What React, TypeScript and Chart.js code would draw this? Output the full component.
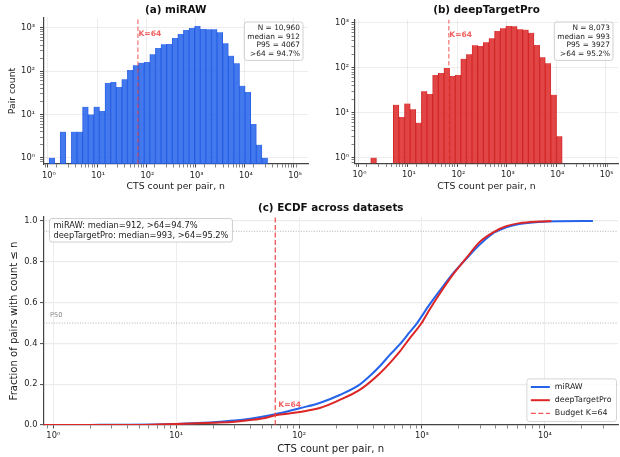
import React, { useEffect, useRef } from 'react';
import { Chart, registerables } from 'chart.js';

Chart.register(...registerables);

const FONT = "'DejaVu Sans', 'Liberation Sans', sans-serif";
Chart.defaults.font.family = FONT;

// ---------- data ----------
// shared log-spaced histogram bin edges (CTS count per pair)
const BIN_EDGES = [1, 1.3, 1.689, 2.195, 2.853, 3.709, 4.819, 6.263, 8.139, 10.58, 13.75, 17.87, 23.23, 30.19, 39.23, 50.98, 66.26, 86.12, 111.9, 145.5, 189.1, 245.7, 319.4, 415.0, 539.4, 701.0, 911.1, 1184, 1539, 2000, 2599, 3378, 4390, 5705, 7415, 9641, 12530, 16280, 21170, 27500];

const MIRAW_COUNTS = [1, 0, 4, 0, 4, 4, 15, 10, 15, 12, 53, 56, 43, 65, 106, 137, 156, 162, 246, 340, 419, 425, 581, 719, 889, 989, 1100, 938, 930, 922, 787, 439, 227, 151, 46, 33, 6, 2, 1];
const DTP_COUNTS = [0, 0, 1, 0, 0, 0, 15, 8, 16, 12, 6, 30, 26, 69, 76, 98, 65, 69, 158, 200, 315, 303, 370, 452, 650, 750, 840, 835, 715, 700, 595, 320, 170, 125, 25, 3, 0, 0, 0];

const MIRAW_N = '10,960';
const MIRAW_MEDIAN = 912;
const MIRAW_P95 = 4067;
const MIRAW_ABOVE_K = '94.7%';
const DTP_N = '8,073';
const DTP_MEDIAN = 993;
const DTP_P95 = 3927;
const DTP_ABOVE_K = '95.2%';
const BUDGET_K = 64;

// ECDF curves
const MIRAW_ECDF_N = [0.5, 1, 2, 4, 7, 10, 15, 20, 30, 40, 54, 64, 80, 101, 147, 214, 311, 376, 453, 549, 659, 794, 912, 1150, 1380, 1770, 2290, 2950, 3780, 4067, 4850, 6200, 9060, 13000, 24600];
const MIRAW_ECDF_F = [0, 0.0001, 0.0005, 0.0012, 0.003, 0.0055, 0.01, 0.014, 0.022, 0.031, 0.044, 0.053, 0.066, 0.082, 0.108, 0.147, 0.198, 0.24, 0.288, 0.345, 0.395, 0.455, 0.5, 0.59, 0.655, 0.74, 0.815, 0.885, 0.94, 0.95, 0.97, 0.986, 0.996, 0.999, 1.0];
const DTP_ECDF_N = [0.5, 2, 5, 7, 10, 15, 20, 30, 40, 54, 64, 80, 101, 147, 214, 311, 453, 549, 659, 794, 993, 1150, 1380, 1770, 2290, 2950, 3927, 4850, 6200, 9060, 11300];
const DTP_ECDF_F = [0, 0.0001, 0.0002, 0.002, 0.0045, 0.008, 0.011, 0.016, 0.024, 0.036, 0.048, 0.055, 0.064, 0.083, 0.123, 0.172, 0.253, 0.305, 0.36, 0.425, 0.5, 0.565, 0.64, 0.735, 0.818, 0.898, 0.95, 0.975, 0.99, 0.998, 1.0];

const ECDF_Y_TICKS = [0, 0.2, 0.4, 0.6, 0.8, 1.0];
const REF_LEVELS = [0.95, 0.5];

// ---------- styles ----------
const BLUE = '#2563eb';
const RED = '#dc2626';
const MIRAW_FILL = 'rgba(37,99,235,0.86)';
const MIRAW_EDGE = 'rgba(30,80,215,0.9)';
const DTP_FILL = 'rgba(220,38,38,0.86)';
const DTP_EDGE = 'rgba(190,30,30,0.9)';
const K_HIST = 'rgba(239,68,68,0.7)';
const K_LABEL = 'rgba(239,68,68,0.85)';
const K_ECDF = 'rgba(239,68,68,0.9)';

const SUP: Record<string, string> = { '-': '⁻', '0': '⁰', '1': '¹', '2': '²', '3': '³', '4': '⁴', '5': '⁵', '6': '⁶', '7': '⁷', '8': '⁸', '9': '⁹' };

function isPow10(v: number) {
  const e = Math.log10(v);
  return Math.abs(e - Math.round(e)) < 1e-6;
}
function pow10Label(v: number) {
  if (!isPow10(v)) return '';
  const r = Math.round(Math.log10(v));
  return '10' + String(r).split('').map((c) => SUP[c]).join('');
}
function logTicks(min: number, max: number) {
  const out: any[] = [];
  for (let e = -2; e <= 6; e++) {
    for (let m = 1; m <= 9; m++) {
      const v = m * Math.pow(10, e);
      if (v >= min && v <= max) out.push({ value: v, major: m === 1 });
    }
  }
  return out;
}

function logAxis(o: any) {
  return {
    type: 'logarithmic',
    min: o.min,
    max: o.max,
    bounds: 'data',
    z: o.z || 0,
    afterBuildTicks: (s: any) => {
      s.ticks = logTicks(o.min, o.max);
    },
    afterFit: (s: any) => {
      if (o.horizontal) s.height = o.fit;
      else s.width = o.fit;
    },
    ticks: {
      autoSkip: false,
      maxRotation: 0,
      minRotation: 0,
      padding: o.tickPad,
      color: '#262626',
      font: { family: FONT, size: o.tickSize || 8.3 },
      callback: (v: any) => pow10Label(Number(v)),
    },
    grid: {
      drawTicks: true,
      tickLength: 3.5,
      color: (c: any) => (c.tick && isPow10(c.tick.value) ? o.gridColor : 'rgba(0,0,0,0)'),
      lineWidth: o.gridWidth,
      tickColor: '#333',
      tickWidth: (c: any) => (c.tick && isPow10(c.tick.value) ? 0.9 : 0.6),
    },
    border: { display: true, color: '#444', width: 1.2 },
    title: o.title || { display: false },
  };
}

function roundRect(ctx: CanvasRenderingContext2D, x: number, y: number, w: number, h: number, r: number) {
  ctx.beginPath();
  ctx.moveTo(x + r, y);
  ctx.lineTo(x + w - r, y);
  ctx.quadraticCurveTo(x + w, y, x + w, y + r);
  ctx.lineTo(x + w, y + h - r);
  ctx.quadraticCurveTo(x + w, y + h, x + w - r, y + h);
  ctx.lineTo(x + r, y + h);
  ctx.quadraticCurveTo(x, y + h, x, y + h - r);
  ctx.lineTo(x, y + r);
  ctx.quadraticCurveTo(x, y, x + r, y);
  ctx.closePath();
}

function histConfig(p: any) {
  const centers = BIN_EDGES.slice(0, -1).map((e, i) => Math.sqrt(e * BIN_EDGES[i + 1]));
  const plugin = {
    id: 'histAnno' + p.id,
    afterDraw(chart: any) {
      const ctx: CanvasRenderingContext2D = chart.ctx;
      const a = chart.chartArea;
      ctx.save();
      ctx.font = `bold 10.4px ${FONT}`;
      ctx.fillStyle = '#111';
      ctx.textAlign = 'center';
      ctx.textBaseline = 'middle';
      ctx.fillText(p.title, (a.left + a.right) / 2, p.titleY);

      const kx = chart.scales.x.getPixelForValue(BUDGET_K);
      ctx.font = `bold 7.6px ${FONT}`;
      ctx.fillStyle = K_LABEL;
      ctx.textAlign = 'left';
      ctx.fillText(`K=${BUDGET_K}`, kx + 0.5, a.top + 16);

      const lines: string[] = p.stats;
      ctx.font = `7.4px ${FONT}`;
      const w = Math.max(...lines.map((l) => ctx.measureText(l).width)) + 6;
      const lh = 8.6;
      const h = lines.length * lh + 4;
      const right = a.right - 5;
      const top = a.top + p.boxTop;
      roundRect(ctx, right - w, top, w, h, 2.5);
      ctx.fillStyle = 'rgba(255,255,255,0.85)';
      ctx.fill();
      ctx.strokeStyle = '#c4c4c4';
      ctx.lineWidth = 0.8;
      ctx.stroke();
      ctx.fillStyle = '#222';
      ctx.textAlign = 'right';
      lines.forEach((l, i) => ctx.fillText(l, right - 3, top + 2 + lh * (i + 0.5)));
      ctx.restore();
    },
  };
  return {
    type: 'bar',
    data: {
      datasets: [
        {
          type: 'bar',
          data: centers.map((x, i) => ({ x, y: p.counts[i] > 0 ? p.counts[i] : null })),
          backgroundColor: p.fill,
          borderColor: p.edge,
          borderWidth: { left: 0.35, right: 0.35, top: 0, bottom: 0 },
          borderSkipped: false,
          barThickness: 'flex',
          categoryPercentage: 1,
          barPercentage: 1,
          order: 2,
        },
        {
          type: 'line',
          data: [
            { x: BUDGET_K, y: p.yMin },
            { x: BUDGET_K, y: p.yMax },
          ],
          borderColor: K_HIST,
          borderWidth: 1.3,
          borderDash: [4.5, 2.5],
          pointRadius: 0,
          order: 1,
        },
      ],
    },
    options: {
      animation: false,
      responsive: false,
      devicePixelRatio: 1,
      layout: { padding: p.padding },
      plugins: { legend: { display: false }, tooltip: { enabled: false }, title: { display: false } },
      scales: {
        x: logAxis({
          min: p.xMin,
          max: p.xMax,
          fit: p.xFit,
          horizontal: true,
          z: 1,
          gridColor: 'rgba(190,190,190,0.3)',
          gridWidth: 0.9,
          tickPad: 3,
          title: {
            display: true,
            text: 'CTS count per pair, n',
            font: { family: FONT, size: 9.3 },
            color: '#1a1a1a',
            padding: { top: 0, bottom: 7.4 },
          },
        }),
        y: logAxis({
          min: p.yMin,
          max: p.yMax,
          fit: p.yFit,
          horizontal: false,
          z: 1,
          gridColor: 'rgba(190,190,190,0.3)',
          gridWidth: 0.9,
          tickPad: p.yTickPad,
          title: p.yTitle
            ? {
                display: true,
                text: p.yTitle,
                font: { family: FONT, size: 9.3 },
                color: '#1a1a1a',
                padding: { top: 7.4, bottom: 0 },
              }
            : { display: false },
        }),
      },
    },
    plugins: [plugin],
  };
}

function ecdfConfig() {
  const X_MIN = 0.832;
  const X_MAX = 39350;
  const datasets: any[] = [
    {
      label: 'miRAW',
      data: MIRAW_ECDF_N.map((n, i) => ({ x: n, y: MIRAW_ECDF_F[i] })),
      borderColor: BLUE,
      borderWidth: 2,
      pointRadius: 0,
      cubicInterpolationMode: 'monotone',
      order: 3,
    },
    {
      label: 'deepTargetPro',
      data: DTP_ECDF_N.map((n, i) => ({ x: n, y: DTP_ECDF_F[i] })),
      borderColor: RED,
      borderWidth: 2,
      pointRadius: 0,
      cubicInterpolationMode: 'monotone',
      order: 2,
    },
    {
      label: `Budget K=${BUDGET_K}`,
      data: [
        { x: BUDGET_K, y: 0 },
        { x: BUDGET_K, y: 1.02 },
      ],
      borderColor: K_ECDF,
      borderWidth: 1.3,
      borderDash: [5, 2.5],
      pointRadius: 0,
      order: 1,
    },
    ...REF_LEVELS.map((lv) => ({
      label: '',
      data: [
        { x: X_MIN, y: lv },
        { x: X_MAX, y: lv },
      ],
      borderColor: '#9a9a9a',
      borderWidth: 0.8,
      borderDash: [1, 1.6],
      pointRadius: 0,
      order: 5,
    })),
  ];
  const plugin = {
    id: 'ecdfAnno',
    afterDraw(chart: any) {
      const ctx: CanvasRenderingContext2D = chart.ctx;
      const a = chart.chartArea;
      const ys = chart.scales.y;
      const xs = chart.scales.x;
      ctx.save();
      ctx.font = `bold 10.4px ${FONT}`;
      ctx.fillStyle = '#111';
      ctx.textAlign = 'center';
      ctx.textBaseline = 'middle';
      ctx.fillText('(c) ECDF across datasets', (a.left + a.right) / 2, 13.7);

      // note box
      const notes = [
        `miRAW: median=${MIRAW_MEDIAN}, >${BUDGET_K}=${MIRAW_ABOVE_K}`,
        `deepTargetPro: median=${DTP_MEDIAN}, >${BUDGET_K}=${DTP_ABOVE_K}`,
      ];
      ctx.font = `8.3px ${FONT}`;
      const nw = Math.max(...notes.map((l) => ctx.measureText(l).width)) + 8;
      const nl = 10;
      const nx = a.left + 6;
      const ny = a.top + 1.5;
      roundRect(ctx, nx, ny, nw, notes.length * nl + 3.5, 2.5);
      ctx.fillStyle = 'rgba(255,255,255,0.85)';
      ctx.fill();
      ctx.strokeStyle = '#c4c4c4';
      ctx.lineWidth = 0.8;
      ctx.stroke();
      ctx.fillStyle = '#222';
      ctx.textAlign = 'left';
      notes.forEach((l, i) => ctx.fillText(l, nx + 4, ny + 2 + nl * (i + 0.5)));

      // P50 label
      ctx.font = `6.6px ${FONT}`;
      ctx.fillStyle = '#8a8a8a';
      ctx.fillText('P50', a.left + 6.5, ys.getPixelForValue(0.5) - 7.5);

      // K label
      const kx = xs.getPixelForValue(BUDGET_K);
      ctx.font = `bold 7.6px ${FONT}`;
      ctx.fillStyle = K_LABEL;
      ctx.fillText(`K=${BUDGET_K}`, kx + 3, ys.getPixelForValue(0) - 20);

      // legend
      const items = chart.data.datasets.filter((d: any) => d.label);
      ctx.font = `7.9px ${FONT}`;
      const tw = Math.max(...items.map((d: any) => ctx.measureText(d.label).width));
      const rowH = 13.2;
      const lw = 4 + 19 + 5 + tw + 5;
      const lh = items.length * rowH + 3;
      const lx = a.right - 1.5 - lw;
      const ly = a.bottom - 3.5 - lh;
      roundRect(ctx, lx, ly, lw, lh, 2.5);
      ctx.fillStyle = 'rgba(255,255,255,0.85)';
      ctx.fill();
      ctx.strokeStyle = '#cccccc';
      ctx.lineWidth = 0.8;
      ctx.stroke();
      items.forEach((d: any, i: number) => {
        const cy = ly + 1.5 + rowH * (i + 0.5);
        ctx.beginPath();
        ctx.setLineDash(d.borderDash || []);
        ctx.strokeStyle = d.borderColor;
        ctx.lineWidth = d.borderWidth;
        ctx.moveTo(lx + 4, cy);
        ctx.lineTo(lx + 23, cy);
        ctx.stroke();
        ctx.setLineDash([]);
        ctx.fillStyle = '#222';
        ctx.fillText(d.label, lx + 28, cy);
      });
      ctx.restore();
    },
  };
  return {
    type: 'line',
    data: { datasets },
    options: {
      animation: false,
      responsive: false,
      devicePixelRatio: 1,
      layout: { padding: { top: 22, right: 2, bottom: 0, left: 0 } },
      plugins: { legend: { display: false }, tooltip: { enabled: false }, title: { display: false } },
      scales: {
        x: logAxis({
          min: X_MIN,
          max: X_MAX,
          fit: 32,
          horizontal: true,
          gridColor: '#e8e8e8',
          gridWidth: 0.8,
          tickPad: 2,
          tickSize: 8.3,
          title: {
            display: true,
            text: 'CTS count per pair, n',
            font: { family: FONT, size: 10.1 },
            color: '#1a1a1a',
            padding: { top: 0, bottom: 1.2 },
          },
        }),
        y: {
          type: 'linear',
          min: 0,
          max: 1.02,
          afterBuildTicks: (s: any) => {
            s.ticks = ECDF_Y_TICKS.map((v) => ({ value: v }));
          },
          afterFit: (s: any) => {
            s.width = 43.5;
          },
          ticks: {
            callback: (v: any) => Number(v).toFixed(1),
            font: { family: FONT, size: 8.3 },
            color: '#262626',
            padding: 2.5,
          },
          grid: { color: '#ececec', lineWidth: 1.2, tickLength: 3.5, tickColor: '#333', tickWidth: 0.9 },
          border: { display: true, color: '#444', width: 1.2 },
          title: {
            display: true,
            text: 'Fraction of pairs with count ≤ n',
            font: { family: FONT, size: 10.1 },
            color: '#1a1a1a',
            padding: { top: 8.6, bottom: 0 },
          },
        },
      },
    },
    plugins: [plugin],
  };
}

const PANEL_A = {
  id: 'a',
  title: '(a) miRAW',
  titleY: 10.5,
  counts: MIRAW_COUNTS,
  fill: MIRAW_FILL,
  edge: MIRAW_EDGE,
  stats: [`N = ${MIRAW_N}`, `median = ${MIRAW_MEDIAN}`, `P95 = ${MIRAW_P95}`, `>${BUDGET_K} = ${MIRAW_ABOVE_K}`],
  xMin: 0.773,
  xMax: 183000,
  yMin: 0.716,
  yMax: 1684,
  padding: { top: 18, right: 2, bottom: 0, left: 0 },
  xFit: 36,
  yFit: 43.5,
  yTickPad: 5,
  yTitle: 'Pair count',
  boxTop: 4,
};
const PANEL_B = {
  id: 'b',
  title: '(b) deepTargetPro',
  titleY: 10.5,
  counts: DTP_COUNTS,
  fill: DTP_FILL,
  edge: DTP_EDGE,
  stats: [`N = ${DTP_N}`, `median = ${DTP_MEDIAN}`, `P95 = ${DTP_P95}`, `>${BUDGET_K} = ${DTP_ABOVE_K}`],
  xMin: 0.81,
  xMax: 169000,
  yMin: 0.743,
  yMax: 1178,
  padding: { top: 19.5, right: 2, bottom: 0, left: 0 },
  xFit: 36.5,
  yFit: 45,
  yTickPad: 2.5,
  yTitle: '',
  boxTop: 2.5,
};

export default function App() {
  const refA = useRef<HTMLCanvasElement>(null);
  const refB = useRef<HTMLCanvasElement>(null);
  const refC = useRef<HTMLCanvasElement>(null);
  useEffect(() => {
    const charts = [
      new Chart(refA.current as HTMLCanvasElement, histConfig(PANEL_A) as any),
      new Chart(refB.current as HTMLCanvasElement, histConfig(PANEL_B) as any),
      new Chart(refC.current as HTMLCanvasElement, ecdfConfig() as any),
    ];
    return () => charts.forEach((c) => c.destroy());
  }, []);
  return (
    <div style={{ position: 'fixed', left: 0, top: 0, width: 620, height: 457, background: '#fff', overflow: 'hidden' }}>
      <canvas ref={refA} width={310} height={200} style={{ position: 'absolute', left: 0, top: 0, width: 310, height: 200 }} />
      <canvas ref={refB} width={310} height={200} style={{ position: 'absolute', left: 310, top: 0, width: 310, height: 200 }} />
      <canvas ref={refC} width={620} height={262} style={{ position: 'absolute', left: 0, top: 195, width: 620, height: 262 }} />
    </div>
  );
}
